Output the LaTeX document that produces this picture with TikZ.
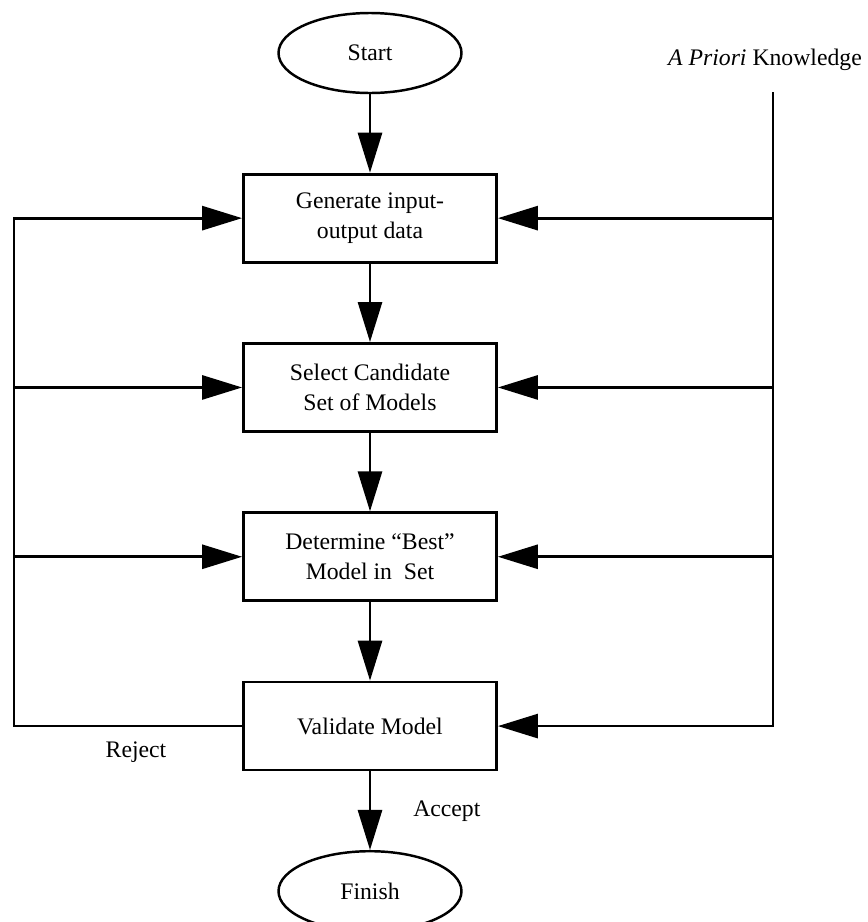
\documentclass[tikz,border=0pt]{standalone}
\usepackage{fontspec}
\setmainfont{Liberation Serif}
\usepackage{tikz}
\usetikzlibrary{shapes.geometric, arrows.meta, positioning}

\begin{document}
\begin{tikzpicture}[
    node distance=1.57cm,
    box/.style={rectangle, draw=black, line width=1.6pt, minimum width=5.06cm, minimum height=1.76cm, align=center, font=\fontsize{13.5}{17}\selectfont},
    term/.style={ellipse, draw=black, line width=1.4pt, minimum width=3.66cm, minimum height=1.6cm, font=\fontsize{13.5}{17}\selectfont},
    lbl/.style={font=\fontsize{13.5}{17}\selectfont},
    flow/.style={-{Triangle[length=0.8cm, width=0.48cm]}, line width=1.6pt},
    link/.style={line width=1.6pt}
]
\useasboundingbox (0,0) rectangle (17.34,-18.44);

% Main boxes
\node[term] (start) at (7.4,-1.06) {Start};
\node[box, below=of start] (generate) {Generate input-\\output data};
\node[box, below=of generate] (select) {Select Candidate\\Set of Models};
\node[box, below=of select] (determine) {Determine “Best”\\Model in\ \ Set};
\node[box, below=of determine] (validate) {Validate Model};
\node[term, below=of validate] (finish) {Finish};

% Knowledge line on the right, reject line on the left
\node[lbl] (apriori) at (15.3,-1.2) {\textit{A Priori} Knowledge};
\coordinate (rgt) at (15.46,-1.84);
\coordinate (lft) at (0.28,-1.84);

% Main flow
\draw[flow] (start) -- (generate);
\draw[flow] (generate) -- (select);
\draw[flow] (select) -- (determine);
\draw[flow] (determine) -- (validate);
\draw[flow] (validate) -- node[lbl, right=0.72cm] (accept) {Accept} (finish);

% Reject feedback
\draw[flow] (validate.west) -- (validate.west -| lft) -- (generate.west -| lft) -- (generate.west);
\foreach \b in {select, determine}
    \draw[flow] (\b.west -| lft) -- (\b.west);
\node[lbl] (reject) at (2.72,-15.04) {Reject};

% A priori knowledge inputs
\draw[flow] (rgt) |- (validate.east);
\foreach \b in {generate, select, determine}
    \draw[flow] (\b.east -| rgt) -- (\b.east);

\end{tikzpicture}
\end{document}
